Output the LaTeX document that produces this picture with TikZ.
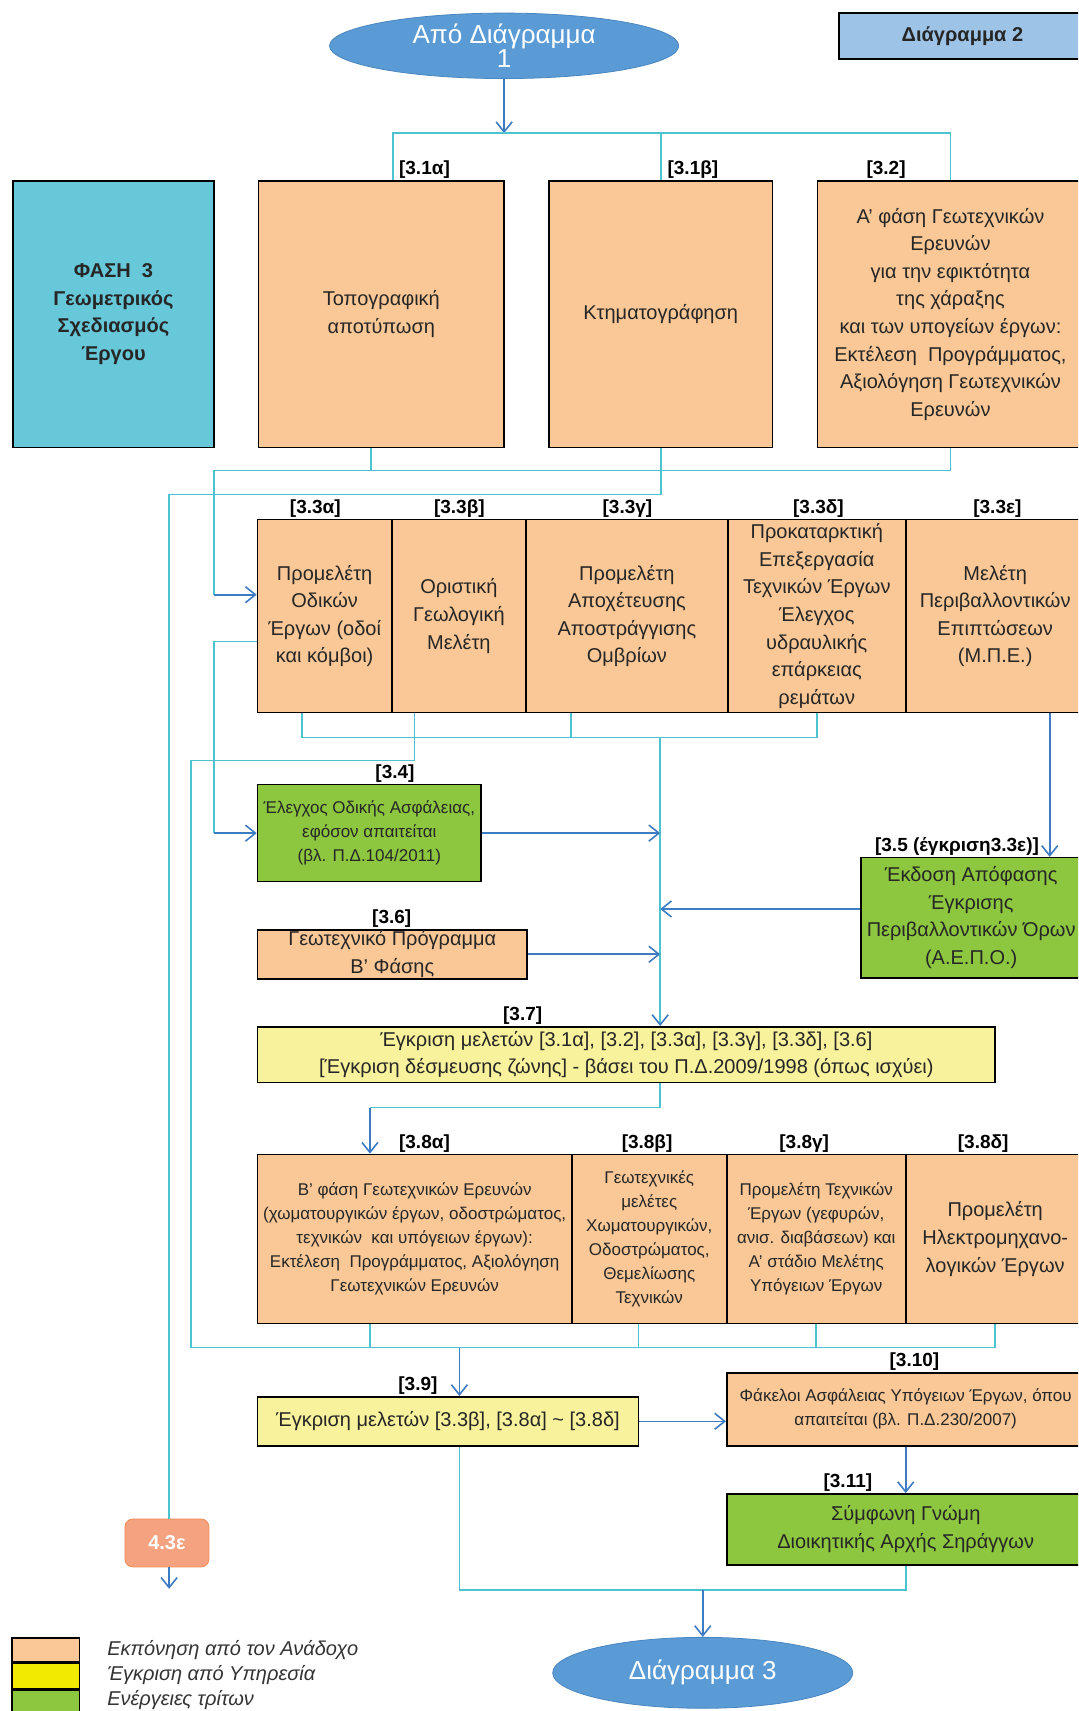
\documentclass[tikz,border=0pt]{standalone}
\usepackage{fontspec}
\setmainfont{Liberation Sans}
\usetikzlibrary{positioning,calc,arrows.meta,shapes.geometric}
\definecolor{contractorColor}{HTML}{FAC896}
\definecolor{approvalColor}{HTML}{F8F29C}
\definecolor{approvalKey}{HTML}{F2EA00}
\definecolor{thirdColor}{HTML}{8DC63F}
\definecolor{phaseColor}{HTML}{67C8DA}
\definecolor{sheetColor}{HTML}{9DC3E6}
\definecolor{ovalColor}{HTML}{5B9BD5}
\definecolor{ovalEdge}{HTML}{4A86C0}
\definecolor{feedColor}{HTML}{4CC3CF}
\definecolor{flowColor}{HTML}{3D7CC2}
\definecolor{linkFill}{HTML}{F5A280}
\definecolor{linkEdge}{HTML}{F28C55}
\newdimen\px
\px=0.5455pt
\tikzstyle{chart} = [x=\px, y=-\px]
\tikzstyle{stepBox} = [draw=black, line width=.8pt, rectangle, align=center, inner sep=0pt, text=black!85]
\tikzstyle{bigText} = [font=\fontsize{10}{13.8}\selectfont]
\tikzstyle{smallText} = [font=\fontsize{8.5}{12}\selectfont]
\tikzstyle{contractorBox} = [stepBox, fill=contractorColor]
\tikzstyle{approvalBox} = [stepBox, fill=approvalColor]
\tikzstyle{thirdBox} = [stepBox, fill=thirdColor]
\tikzstyle{phaseBox} = [stepBox, fill=phaseColor, font=\fontsize{10}{13.8}\selectfont\bfseries]
\tikzstyle{sheetBox} = [stepBox, fill=sheetColor, font=\fontsize{10}{12}\selectfont\bfseries]
\tikzstyle{linkBox} = [rectangle, rounded corners=4pt, draw=linkEdge, fill=linkFill, text=white, font=\fontsize{10}{12}\selectfont\bfseries]
\tikzstyle{oval} = [ellipse, draw=ovalEdge, fill=ovalColor, text=white, align=center, inner sep=0pt, font=\fontsize{13}{12}\selectfont]
\tikzstyle{stepLabel} = [anchor=south, inner sep=1pt, font=\fontsize{9.5}{11}\selectfont\bfseries]
\tikzstyle{keyBox} = [draw=black, line width=.8pt, rectangle, inner sep=0pt]
\tikzstyle{keyText} = [anchor=west, inner sep=0pt, text=black!80, font=\fontsize{10}{12}\selectfont\itshape]
\tikzstyle{feed} = [draw=feedColor, line width=.8pt]
\tikzstyle{feedArrow} = [feed, -{Straight Barb[length=5pt,width=8pt,color=flowColor]}]
\tikzstyle{flow} = [draw=flowColor, line width=.8pt, -{Straight Barb[length=5pt,width=8pt]}]
\newcommand{\stepNode}[7]{\node [#1, minimum width=#5\px, minimum height=#6\px] (#2) at (#3,#4) {#7};}
\newcommand{\stepTag}[3]{\node [stepLabel] (#1) at (#2) {#3};}
\begin{document}
\begin{tikzpicture}[chart]
  \clip (0,0) rectangle (988,1568);

  % top
  \stepNode{oval}{fromSheet}{462}{42}{320}{60}{Από Διάγραμμα\\1}
  \stepNode{sheetBox}{sheetTwo}{882}{33}{226}{42}{Διάγραμμα 2}
  \stepNode{phaseBox}{phase}{104}{288}{184}{244}{ΦΑΣΗ~ 3\\Γεωμετρικός\\Σχεδιασμός\\Έργου}

  % row 3.1 - 3.2
  \stepNode{contractorBox, bigText}{b31a}{349.5}{288}{225}{244}{Τοπογραφική\\αποτύπωση}
  \stepNode{contractorBox, bigText}{b31b}{605.5}{288}{205}{244}{Κτηματογράφηση}
  \stepNode{contractorBox, bigText}{b32}{871}{288}{244}{244}{Α' φάση Γεωτεχνικών\\Ερευνών\\για την εφικτότητα\\της χάραξης\\και των υπογείων έργων:\\Εκτέλεση~ Προγράμματος,\\Αξιολόγηση Γεωτεχνικών\\Ερευνών}
  \stepTag{l31a}{389,166}{[3.1α]}
  \stepTag{l31b}{635,166}{[3.1β]}
  \stepTag{l32}{812,166}{[3.2]}

  % row 3.3
  \stepNode{contractorBox, bigText}{b33a}{297.5}{564.5}{123}{177}{Προμελέτη\\Οδικών\\Έργων (οδοί\\και κόμβοι)}
  \stepNode{contractorBox, bigText}{b33b}{420.5}{564.5}{123}{177}{Οριστική\\Γεωλογική\\Μελέτη}
  \stepNode{contractorBox, bigText}{b33c}{574.5}{564.5}{185}{177}{Προμελέτη\\Αποχέτευσης\\Αποστράγγισης\\Ομβρίων}
  \stepNode{contractorBox, bigText}{b33d}{748.5}{564.5}{163}{177}{Προκαταρκτική\\Επεξεργασία\\Τεχνικών Έργων\\Έλεγχος\\υδραυλικής\\επάρκειας\\ρεμάτων}
  \stepNode{contractorBox, bigText}{b33e}{912}{564.5}{164}{177}{Μελέτη\\Περιβαλλοντικών\\Επιπτώσεων\\(Μ.Π.Ε.)}
  \stepTag{l33a}{289,476}{[3.3α]}
  \stepTag{l33b}{421,476}{[3.3β]}
  \stepTag{l33c}{575,476}{[3.3γ]}
  \stepTag{l33d}{750,476}{[3.3δ]}
  \stepTag{l33e}{914,476}{[3.3ε]}

  % 3.4 - 3.7
  \stepNode{thirdBox, smallText}{b34}{338.5}{763.5}{205}{89}{Έλεγχος Οδικής Ασφάλειας,\\εφόσον απαιτείται\\(βλ. Π.Δ.104/2011)}
  \stepNode{thirdBox, bigText}{b35}{890}{841}{202}{110}{Έκδοση Απόφασης\\Έγκρισης\\Περιβαλλοντικών Όρων\\(Α.Ε.Π.Ο.)}
  \stepNode{contractorBox, bigText}{b36}{359.5}{874.5}{247}{45}{Γεωτεχνικό Πρόγραμμα\\Β' Φάσης}
  \stepNode{approvalBox, bigText}{b37}{574}{966.5}{676}{51}{Έγκριση μελετών [3.1α], [3.2], [3.3α], [3.3γ], [3.3δ], [3.6]\\\relax[Έγκριση δέσμευσης ζώνης] - βάσει του Π.Δ.2009/1998 (όπως ισχύει)}
  \stepTag{l34}{362,719}{[3.4]}
  \stepTag{l35}{877,786}{[3.5 (έγκριση3.3ε)]}
  \stepTag{l36}{359,852}{[3.6]}
  \stepTag{l37}{479,941}{[3.7]}

  % row 3.8
  \stepNode{contractorBox, smallText}{b38a}{380}{1135.5}{288}{155}{Β' φάση Γεωτεχνικών Ερευνών\\(χωματουργικών έργων, οδοστρώματος,\\τεχνικών~ και υπόγειων έργων):\\Εκτέλεση~ Προγράμματος, Αξιολόγηση\\Γεωτεχνικών Ερευνών}
  \stepNode{contractorBox, smallText}{b38b}{595}{1135.5}{142}{155}{Γεωτεχνικές\\μελέτες\\Χωματουργικών,\\Οδοστρώματος,\\Θεμελίωσης\\Τεχνικών}
  \stepNode{contractorBox, smallText}{b38c}{748}{1135.5}{164}{155}{Προμελέτη Τεχνικών\\Έργων (γεφυρών,\\ανισ. διαβάσεων) και\\Α' στάδιο Μελέτης\\Υπόγειων Έργων}
  \stepNode{contractorBox, bigText}{b38d}{912}{1135.5}{164}{155}{Προμελέτη\\Ηλεκτρομηχανο-\\λογικών Έργων}
  \stepTag{l38a}{389,1058}{[3.8α]}
  \stepTag{l38b}{593,1058}{[3.8β]}
  \stepTag{l38c}{737,1058}{[3.8γ]}
  \stepTag{l38d}{901,1058}{[3.8δ]}

  % 3.9 - 3.11
  \stepNode{approvalBox, bigText}{b39}{410.5}{1302.5}{349}{45}{Έγκριση μελετών [3.3β], [3.8α] \textasciitilde{} [3.8δ]}
  \stepNode{contractorBox, smallText}{b310}{830}{1291.5}{328}{67}{Φάκελοι Ασφάλειας Υπόγειων Έργων, όπου\\απαιτείται (βλ. Π.Δ.230/2007)}
  \stepNode{thirdBox, bigText}{b311}{830}{1401.5}{328}{65}{Σύμφωνη Γνώμη\\Διοικητικής Αρχής Σηράγγων}
  \stepTag{l39}{383,1280}{[3.9]}
  \stepTag{l310}{838,1258}{[3.10]}
  \stepTag{l311}{777,1369}{[3.11]}

  \stepNode{linkBox}{b43e}{153}{1414}{77}{44}{4.3ε}
  \stepNode{oval}{toSheet}{644}{1533}{275}{65}{Διάγραμμα 3}

  % legend
  \node [keyBox, fill=contractorColor, minimum width=62\px, minimum height=22\px] (keyA) at (42,1512) {};
  \node [keyBox, fill=approvalKey, minimum width=62\px, minimum height=23\px, below=0pt of keyA] (keyB) {};
  \node [keyBox, fill=thirdColor, minimum width=62\px, minimum height=24\px, below=0pt of keyB] (keyC) {};
  \node [keyText] (keyTextA) at (98,1512) {Εκπόνηση από τον Ανάδοχο};
  \node [keyText] (keyTextB) at (98,1535) {Έγκριση από Υπηρεσία};
  \node [keyText] (keyTextC) at (98,1558) {Ενέργειες τρίτων};

  % junctions
  \coordinate (j1) at (462,122);
  \coordinate (j2) at (196,431);
  \coordinate (j3) at (155,453);
  \coordinate (j4) at (605,675);
  \coordinate (j5) at (175,697);
  \coordinate (j6) at (196,763.5);
  \coordinate (j7) at (339,1015);
  \coordinate (j8) at (912,1235);
  \coordinate (j9) at (644,1457);
  \coordinate (j10) at (421,1235);
  \coordinate (a33a) at ($(b33a.west)+(0,-19.5)$);
  \coordinate (o33a) at ($(b33a.west)+(0,23.5)$);
  \coordinate (o33e) at ($(b33e.south)+(50,0)$);
  \coordinate (e43) at (155,1456);

  % connectors
  \draw [flow] (fromSheet) -- (j1);
  \draw [feed] ($(b31a.north)+(10.5,0)$) |- (j1) -| (b32.north);
  \draw [feed] (b31b.north) -- (b31b.north |- j1);
  \draw [feed] ($(b31a.south)+(-9.5,0)$) |- (j2);
  \draw [feed] (b32.south) |- (j2) -- (j2 |- a33a);
  \draw [flow] (j2 |- a33a) -- (a33a);
  \draw [feed] (b31b.south) |- (j3) -- (j3 |- b43e.north);
  \draw [flow] (j3 |- b43e.south) -- (e43);

  \draw [feed] ($(b33a.south)+(-20.5,0)$) |- ($(b33d.south)+(0,22)$) -- (b33d.south);
  \draw [feed] ($(b33c.south)+(-51.5,0)$) -- ++(0,22);
  \draw [feed] ($(b33b.south)+(-40.5,0)$) |- (j5) -- (j5 |- j8) -| (b38d.south);
  \draw [feedArrow] (j4) -- (j4 |- b37.north);
  \draw [feed] (o33a) -| (j6);
  \draw [flow] (j6) -- (b34.west);
  \draw [flow] (b34.east) -- (b34.east -| j4);
  \draw [flow] (o33e) -- (o33e |- b35.north);
  \draw [flow] ($(b35.west)+(0,-8)$) -- ($(b35.west -| j4)+(0,-8)$);
  \draw [flow] (b36.east) -- (b36.east -| j4);

  \draw [feed] (b37.south -| j4) |- (j7);
  \draw [flow] (j7) -- (j7 |- b38a.north);
  \draw [feed] (b38a.south -| j7) -- (j7 |- j8);
  \draw [feed] ($(b38b.south)+(-10,0)$) -- ++(0,22);
  \draw [feed] (b38c.south) -- ++(0,22);
  \draw [flow] (j10) -- (j10 |- b39.north);
  \draw [flow] (b39.east) -- (b39.east -| b310.west);
  \draw [flow] (b310.south) -- (b311.north);
  \draw [feed] (b39.south -| j10) |- (b311.south |- j9) -- (b311.south);
  \draw [flow] (j9) -- (toSheet.north);
\end{tikzpicture}
\end{document}
